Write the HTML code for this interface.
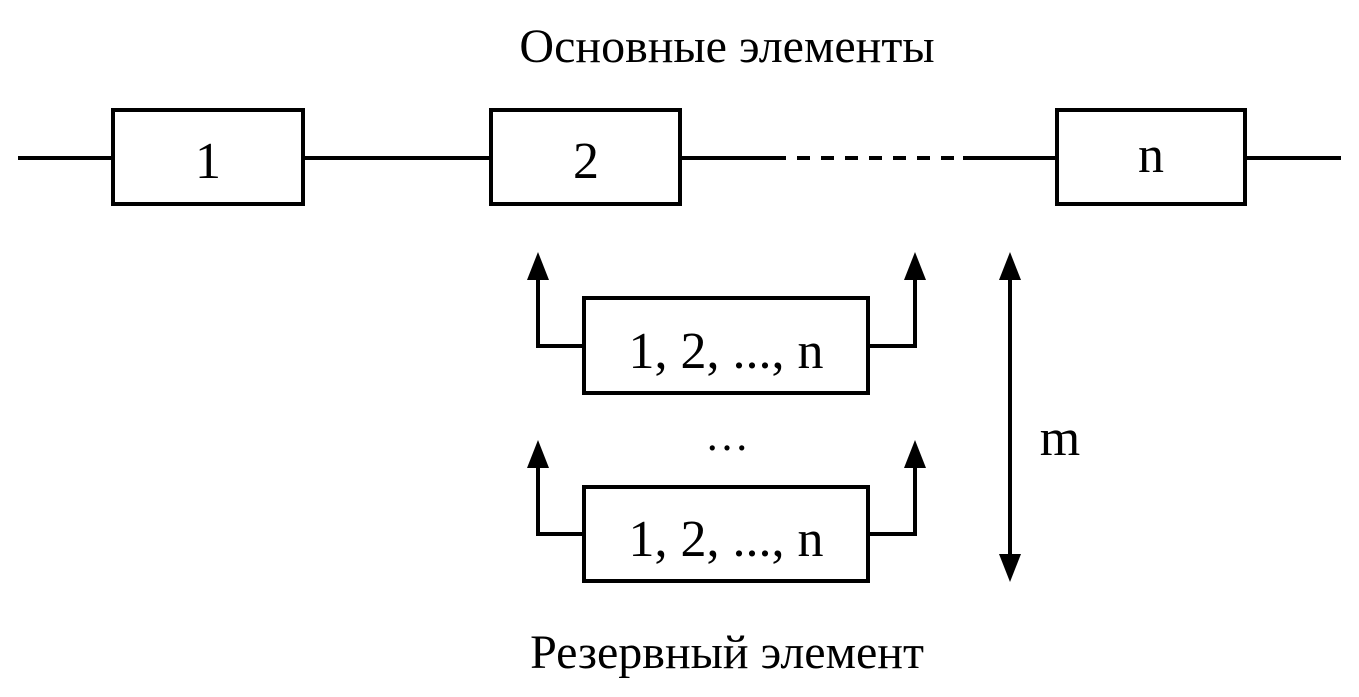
<!DOCTYPE html>
<html><head><meta charset="utf-8"><style>
html,body{margin:0;padding:0;background:#fff;}
svg{display:block;}
text{font-family:"Liberation Serif",serif;fill:#000;}
</style></head><body>
<svg width="1359" height="697" viewBox="0 0 1359 697" xmlns="http://www.w3.org/2000/svg">
<defs>
<marker id="ah" markerWidth="10" markerHeight="10" refX="5" refY="10" orient="auto-start-reverse" markerUnits="userSpaceOnUse" viewBox="0 0 10 10"></marker>
</defs>
<text x="727" y="62" font-size="48" text-anchor="middle">Основные элементы</text>
<g stroke="#000" stroke-width="4" fill="none">
<line x1="18" y1="158" x2="113" y2="158"/>
<rect x="113" y="110" width="190" height="94"/>
<line x1="303" y1="158" x2="491" y2="158"/>
<rect x="491" y="110" width="189" height="94"/>
<line x1="680" y1="158" x2="773" y2="158"/>
<line x1="773" y1="158" x2="963" y2="158" stroke-dasharray="13,11"/>
<line x1="963" y1="158" x2="1057" y2="158"/>
<rect x="1057" y="110" width="188" height="94"/>
<line x1="1245" y1="158" x2="1341" y2="158"/>

<rect x="584" y="298" width="284" height="95"/>
<rect x="584" y="487" width="284" height="94"/>
<polyline points="584,346 538,346 538,272"/>
<polyline points="868,346 915,346 915,272"/>
<polyline points="584,534 538,534 538,460"/>
<polyline points="868,534 915,534 915,460"/>
<line x1="1010" y1="272" x2="1010" y2="562"/>
</g>
<g fill="#000">
<polygon points="538,252 527,280 549,280"/>
<polygon points="915,252 904,280 926,280"/>
<polygon points="538,440 527,468 549,468"/>
<polygon points="915,440 904,468 926,468"/>
<polygon points="1010,252 999,280 1021,280"/>
<polygon points="1010,582 999,554 1021,554"/>
</g>
<text x="208" y="178" font-size="52" text-anchor="middle">1</text>
<text x="586" y="178" font-size="52" text-anchor="middle">2</text>
<text x="1151" y="172" font-size="52" text-anchor="middle">n</text>
<text x="726" y="368" font-size="52" text-anchor="middle">1, 2, ..., n</text>
<text x="726" y="556" font-size="52" text-anchor="middle">1, 2, ..., n</text>
<text x="727" y="450" font-size="44" text-anchor="middle">…</text>
<text x="1060" y="455" font-size="52" text-anchor="middle">m</text>
<text x="727" y="668" font-size="48" text-anchor="middle">Резервный элемент</text>
</svg>
</body></html>
